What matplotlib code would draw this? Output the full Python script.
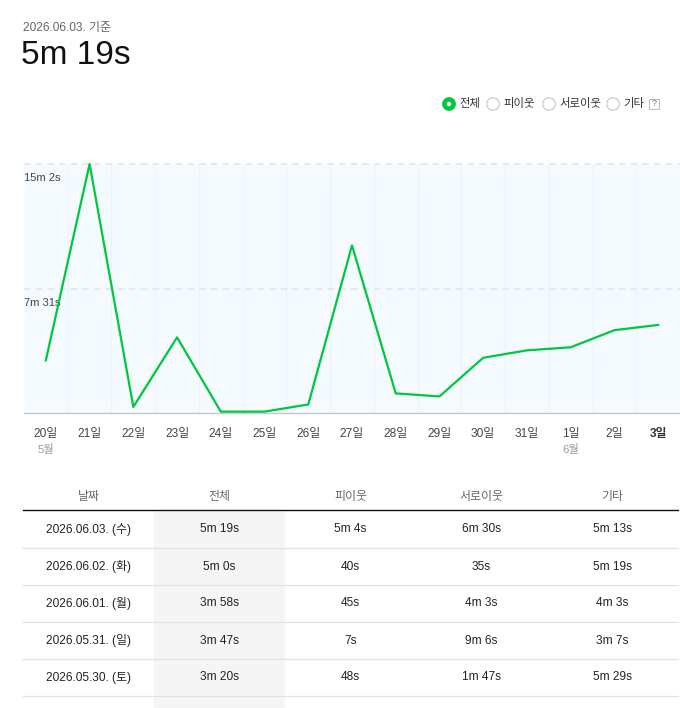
import matplotlib
matplotlib.use("Agg")
import matplotlib.pyplot as plt
from matplotlib.patches import Circle, Rectangle

plt.rcParams['font.family'] = ['Liberation Sans', 'Noto Sans CJK KR', 'DejaVu Sans']

# --- data ---
days = ['20일', '21일', '22일', '23일', '24일', '25일', '26일', '27일',
        '28일', '29일', '30일', '31일', '1일', '2일', '3일']
months = {0: '5월', 12: '6월'}
total_sec = [191, 902, 22, 274, 5, 5, 31, 607, 71, 60, 200, 227, 238, 300, 319]
y_marks = [451, 902]

series = ['전체', '피이웃', '서로이웃', '기타']
table_cols = ['날짜', '전체', '피이웃', '서로이웃', '기타']
table_dates = ['2026.06.03. (수)', '2026.06.02. (화)', '2026.06.01. (월)',
               '2026.05.31. (일)', '2026.05.30. (토)']
col_total = ['5m 19s', '5m 0s', '3m 58s', '3m 47s', '3m 20s']
col_pi = ['5m 4s', '40s', '45s', '7s', '48s']
col_seo = ['6m 30s', '35s', '4m 3s', '9m 6s', '1m 47s']
col_etc = ['5m 13s', '5m 19s', '4m 3s', '3m 7s', '5m 29s']

GREEN = '#00c73c'
W, H = 680, 708


def fmt(s):
    m, r = divmod(int(s), 60)
    return f"{m}m {r}s" if m else f"{r}s"


fig = plt.figure(figsize=(W / 100, H / 100), dpi=100)

# overlay axes in pixel coords (top-left origin)
ov = fig.add_axes([0, 0, 1, 1])
ov.set_xlim(0, W)
ov.set_ylim(H, 0)
ov.axis('off')

# header
ov.text(23, 28, '2026.06.03. 기준', fontsize=8.6, color='#666', va='center')
ov.text(21, 55, fmt(total_sec[-1]), fontsize=24, color='#111', va='center')

# radio legend
legend_x = [449, 493, 549, 613]
for i, (name, cx) in enumerate(zip(series, legend_x)):
    if i == 0:
        ov.add_patch(Circle((cx, 104), 6.3, facecolor=GREEN, edgecolor=GREEN, lw=0.8))
        ov.add_patch(Circle((cx, 104), 2.2, facecolor='white', edgecolor='none'))
    else:
        ov.add_patch(Circle((cx, 104), 6.3, facecolor='white', edgecolor='#c8c8c8', lw=0.8))
    ov.text(cx + 10, 104, name, fontsize=8.2, color='#333', va='center')
ov.add_patch(Rectangle((649, 98.5), 10, 10, facecolor='white', edgecolor='#bbb', lw=0.7))
ov.text(654, 104, '?', fontsize=6.5, color='#777', ha='center', va='center')

# --- chart ---
left, top, bottom, right = 24, 164, 413, 680
ax = fig.add_axes([left / W, (H - bottom) / H, (right - left) / W, (bottom - top) / H])
ax.set_facecolor('#f5faff')
x = list(range(len(days)))
ax.set_xlim(-0.5, len(days) - 0.5)
ax.set_ylim(0, max(y_marks))
for b in range(1, len(days)):
    ax.axvline(b - 0.5, color='#ebf3fa', lw=0.9, zorder=1)
for v in y_marks:
    ax.axhline(v, color='#dfe6ec', lw=1.2, ls=(0, (4, 3)), zorder=1, clip_on=False)
    ax.annotate(fmt(v), xy=(0, v), xycoords=('axes fraction', 'data'),
                xytext=(0, -14), textcoords='offset pixels',
                fontsize=8, color='#444', va='center', ha='left')
ax.plot(x, total_sec, color=GREEN, lw=1.6, zorder=3, clip_on=False)

for s in ['top', 'left', 'right']:
    ax.spines[s].set_visible(False)
ax.spines['bottom'].set_color('#c4c8cc')
ax.spines['bottom'].set_linewidth(1.0)
ax.set_yticks([])
ax.set_xticks(x)
ax.set_xticklabels(days, fontsize=8.6, color='#444')
ax.tick_params(axis='x', length=0, pad=11)
last = ax.get_xticklabels()[-1]
last.set_fontweight('bold')
last.set_color('#333')
for i, m in months.items():
    ax.annotate(m, xy=(i, 0), xycoords=('data', 'axes fraction'),
                xytext=(0, -37), textcoords='offset pixels',
                fontsize=8.2, color='#999', ha='center', va='center')

# --- table ---
tx0, tx1 = 23, 678
cw = (tx1 - tx0) / len(table_cols)
ov.add_patch(Rectangle((tx0 + cw, 511), cw, H - 511, facecolor='#f5f5f5', edgecolor='none'))
for j, c in enumerate(table_cols):
    ov.text(tx0 + cw * (j + 0.5), 497, c, fontsize=8.6, color='#666', ha='center', va='center')
ov.plot([tx0, tx1], [510, 510], color='#111', lw=1.0)
rows = list(zip(table_dates, col_total, col_pi, col_seo, col_etc))
for r, row in enumerate(rows):
    cy = 529.5 + 37 * r
    for j, val in enumerate(row):
        ov.text(tx0 + cw * (j + 0.5), cy, val, fontsize=8.6, color='#222',
                ha='center', va='center')
    ov.plot([tx0, tx1], [cy + 18, cy + 18], color='#e2e2e2', lw=0.9)

fig.savefig('out.png', dpi=100, facecolor='white')
